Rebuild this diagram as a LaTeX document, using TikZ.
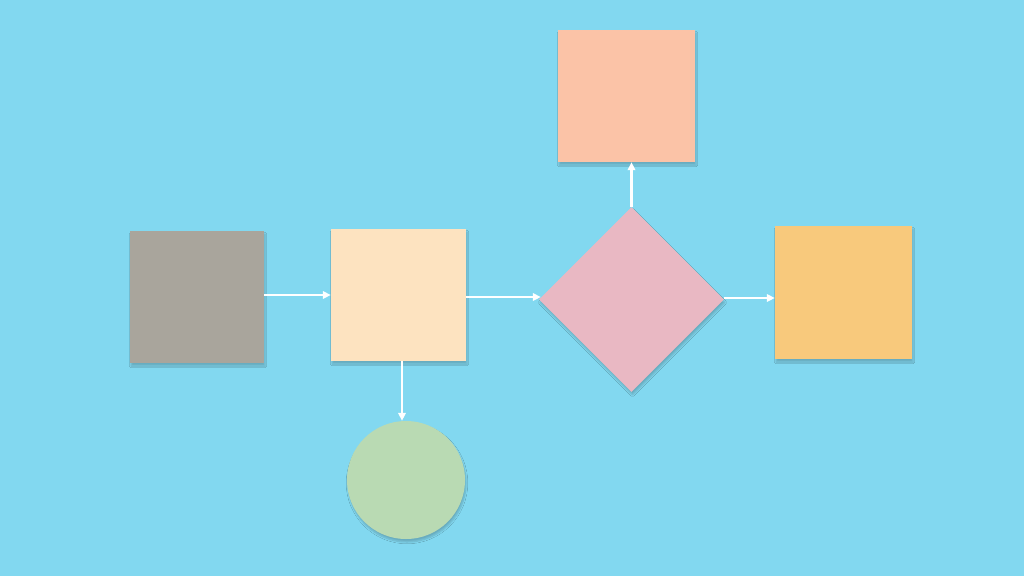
\documentclass[tikz,border=0pt]{standalone}
\usetikzlibrary{shapes.geometric,arrows.meta,shadows.blur}
\definecolor{bg}{HTML}{82D8F0}
\definecolor{cgray}{HTML}{A9A59C}
\definecolor{ccream}{HTML}{FDE3C0}
\definecolor{cpink}{HTML}{E9B8C3}
\definecolor{cpeach}{HTML}{FBC3A7}
\definecolor{corange}{HTML}{F8C97C}
\definecolor{cgreen}{HTML}{B9DAB3}
\tikzset{
  paper/.style={inner sep=0pt, draw=none, blur shadow={shadow xshift=1pt, shadow yshift=-3pt, shadow blur steps=6, shadow opacity=20}},
  sq/.style={paper, rectangle},
  flow/.style={draw=white, line width=2.8pt, -{Triangle[length=8pt,width=7.5pt]}}
}
\begin{document}
\begin{tikzpicture}[x=1pt,y=-1pt]
\fill[bg] (0,0) rectangle (1024,576);
\useasboundingbox (0,0) rectangle (1024,576);
\node[sq, fill=cgray, minimum width=134pt, minimum height=132pt] (gray) at (197,297) {};
\node[sq, fill=ccream, minimum width=135pt, minimum height=132pt] (cream) at (398.5,295) {};
\node[sq, fill=cpeach, minimum width=137pt, minimum height=132pt] (peach) at (626.5,96) {};
\node[sq, fill=corange, minimum width=137pt, minimum height=133pt] (orange) at (843.5,292.5) {};
\node[paper, diamond, fill=cpink, minimum width=185pt, minimum height=185pt] (dia) at (631.5,299.5) {};
\node[paper, circle, fill=cgreen, minimum size=118pt] (circ) at (406,480) {};
\draw[flow] (gray.east |- 0,295) -- (cream.west |- 0,295);
\draw[flow] (cream.east |- 0,297) -- ([xshift=2pt]dia.west |- 0,297);
\draw[flow] (dia.east |- 0,298) -- (orange.west |- 0,298);
\draw[flow] (dia.north) -- (dia.north |- peach.south);
\draw[flow] ([xshift=3.5pt]cream.south) -- ([xshift=3.5pt]cream.south |- circ.north);
\end{tikzpicture}
\end{document}
